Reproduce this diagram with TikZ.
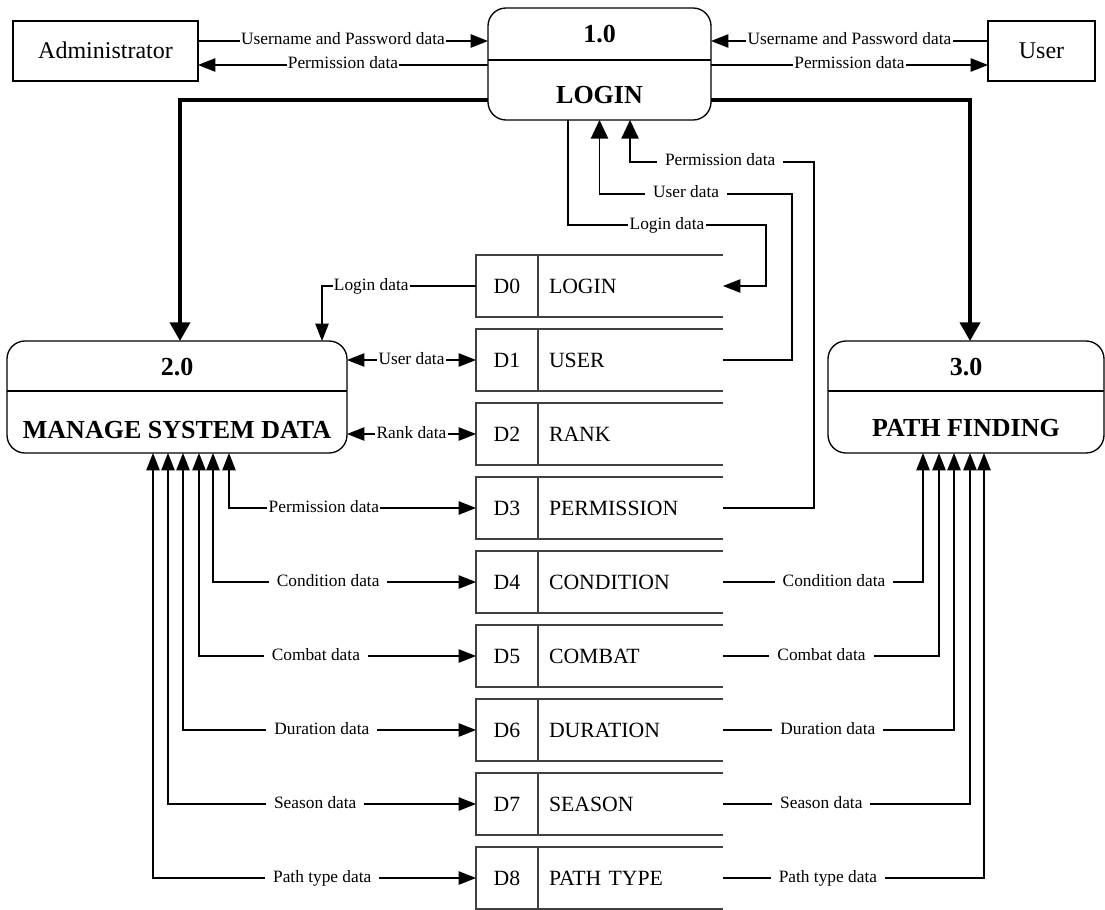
\documentclass[tikz,border=0pt]{standalone}
\usepackage{fontspec}
\setmainfont{Liberation Serif}
\usetikzlibrary{arrows.meta}
\begin{document}
\begin{tikzpicture}[x=0.75pt,y=-0.75pt,
  line width=1.1pt,
  every node/.style={inner sep=0pt, outer sep=0pt},
  proc/.style={draw, rounded corners=13.5pt, line width=1pt},
  ent/.style={draw, line width=1pt, text height=12pt, text depth=0pt,
    font=\fontsize{18}{20}\selectfont},
  ptitle/.style={font=\fontsize{19.5}{22}\selectfont\bfseries},
  sid/.style={draw=black!75, line width=0.9pt, minimum width=46.5pt,
    minimum height=46.5pt, text height=11pt, text depth=0pt,
    font=\fontsize{16.3}{18}\selectfont},
  sname/.style={minimum height=46.5pt, text width=122.25pt, inner xsep=8.25pt,
    align=left, text height=11pt, text depth=0pt,
    font=\fontsize{16.3}{18}\selectfont},
  sline/.style={draw=black!75, line width=0.9pt},
  flow/.style={-{Triangle[length=13pt,width=10pt]}},
  flowbig/.style={-{Triangle[length=14pt,width=13pt]}},
  flow2/.style={{Triangle[length=13pt,width=10pt]}-{Triangle[length=13pt,width=10pt]}},
  heavy/.style={line width=3pt, -{Triangle[length=14pt,width=15pt]}},
  lbl/.style={fill=white, text height=9pt, text depth=3pt, inner xsep=1pt,
    font=\fontsize{13}{15}\selectfont},
  lblw/.style={lbl, inner xsep=6pt},
]
\useasboundingbox (0,0) rectangle (1105,909);

% external entities
\node[ent, minimum width=138.75pt, minimum height=45pt] (adm) at (105.5,51) {Administrator};
\node[ent, minimum width=80.25pt, minimum height=45pt] (usr) at (1041.5,51) {User};

% processes
\node[proc, minimum width=167.25pt, minimum height=84pt] (p1) at (599.5,64) {};
\draw ([yshift=3pt]p1.west) -- ([yshift=3pt]p1.east);
\node[ptitle] (p1n) at (599.5,34) {1.0};
\node[ptitle] (p1t) at (599.5,95) {LOGIN};

\node[proc, minimum width=255pt, minimum height=84pt] (p2) at (177,397) {};
\draw ([yshift=4.5pt]p2.west) -- ([yshift=4.5pt]p2.east);
\node[ptitle] (p2n) at (177,367) {2.0};
\node[ptitle] (p2t) at (177,430) {MANAGE SYSTEM DATA};

\node[proc, minimum width=207pt, minimum height=84pt] (p3) at (966,397) {};
\draw ([yshift=4.5pt]p3.west) -- ([yshift=4.5pt]p3.east);
\node[ptitle] (p3n) at (966,367) {3.0};
\node[ptitle] (p3t) at (966,428) {PATH FINDING};

% data stores D0 ... D8
\foreach \i/\nm in {0/LOGIN,1/USER,2/RANK,3/PERMISSION,4/CONDITION,
                    5/COMBAT,6/DURATION,7/SEASON,8/PATH TYPE}{
  \node[sid] (d\i) at (507,286+74*\i) {D\i};
  \node[sname, anchor=west] (n\i) at (d\i.east) {\nm};
  \draw[sline] (n\i.north west) -- (n\i.north east)
               (n\i.south west) -- (n\i.south east);
}

% bend levels
\coordinate (yUP) at (0,41);
\coordinate (yPM) at (0,65);
\coordinate (yTh) at (0,100);
\coordinate (bLogin) at (766,225);
\coordinate (bUser) at (792,194);
\coordinate (bPerm) at (814,162);

% entity flows
\draw[flow] (adm.east |- yUP) -- (p1.west |- yUP) node[midway,lbl]{Username and Password data};
\draw[flow] (p1.west |- yPM) -- (adm.east |- yPM) node[midway,lbl]{Permission data};
\draw[flow] (usr.west |- yUP) -- (p1.east |- yUP) node[midway,lbl]{Username and Password data};
\draw[flow] (p1.east |- yPM) -- (usr.west |- yPM) node[midway,lbl]{Permission data};

% control flows from LOGIN
\draw[heavy] (p1.west |- yTh) -| ([xshift=2.25pt]p2.north);
\draw[heavy] (p1.east |- yTh) -| ([xshift=3pt]p3.north);

% LOGIN and its stores
\draw[flow] ([xshift=-23.6pt]p1.south) |- (bLogin) node[pos=0.75,lbl]{Login data} |- (n0.east);
\draw[flowbig] (n1.east) -| (bUser) -| (p1.south) node[pos=0.275,lblw]{User data};
\draw[flowbig] (n3.east) -| (bPerm) -| ([xshift=22.9pt]p1.south) node[pos=0.255,lblw]{Permission data};

% MANAGE SYSTEM DATA and its stores
\draw[flow] (d0.west) -| ([xshift=108.75pt]p2.north) node[pos=0.34,lbl]{Login data};
\draw[flow2] (p2.east |- d1.west) -- (d1.west) node[midway,lbl]{User data};
\draw[flow2] (p2.east |- d2.west) -- (d2.west) node[midway,lbl]{Rank data};
\draw[flow2] ([xshift=39pt]p2.south) |- (d3.west) node[pos=0.692,lbl]{Permission data};
\draw[flow2] ([xshift=27pt]p2.south) |- (d4.west) node[pos=0.719,lblw]{Condition data};
\draw[flow2] ([xshift=16.5pt]p2.south) |- (d5.west) node[pos=0.711,lblw]{Combat data};
\draw[flow2] ([xshift=4.5pt]p2.south) |- (d6.west) node[pos=0.737,lblw]{Duration data};
\draw[flow2] ([xshift=-6.75pt]p2.south) |- (d7.west) node[pos=0.739,lblw]{Season data};
\draw[flow2] ([xshift=-18pt]p2.south) |- (d8.west) node[pos=0.762,lblw]{Path type data};

% PATH FINDING and its stores
\draw[flow] (n4.east) -| ([xshift=-32.25pt]p3.south) node[pos=0.2775,lblw]{Condition data};
\draw[flow] (n5.east) -| ([xshift=-20.25pt]p3.south) node[pos=0.228,lblw]{Combat data};
\draw[flow] (n6.east) -| ([xshift=-9pt]p3.south) node[pos=0.227,lblw]{Duration data};
\draw[flow] (n7.east) -| ([xshift=3pt]p3.south) node[pos=0.199,lblw]{Season data};
\draw[flow] (n8.east) -| ([xshift=13.5pt]p3.south) node[pos=0.201,lblw]{Path type data};
\end{tikzpicture}
\end{document}
